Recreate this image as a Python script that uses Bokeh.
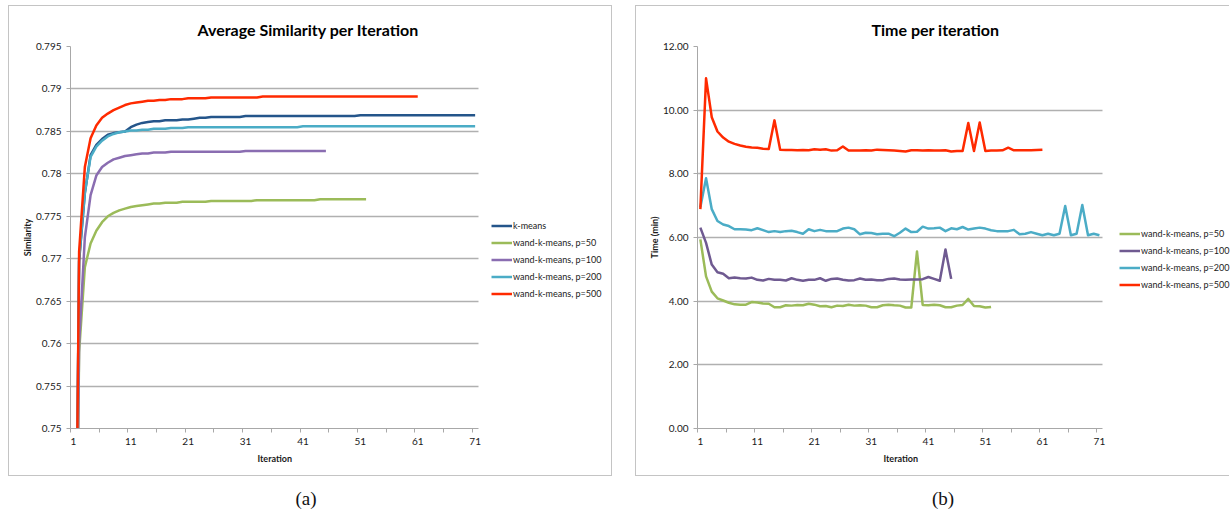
from bokeh.plotting import figure
from bokeh.models import Range1d, FixedTicker, Legend, LegendItem, Div, Spacer, Title
from bokeh.layouts import row, column
from bokeh.embed import file_html
from bokeh.resources import INLINE

# ---------------- data ----------------
SIM_TICKS = [0.75, 0.755, 0.76, 0.765, 0.77, 0.775, 0.78, 0.785, 0.79, 0.795]
SIM_TICK_LABELS = ["0.75", "0.755", "0.76", "0.765", "0.77", "0.775", "0.78", "0.785", "0.79", "0.795"]
TIME_TICKS = [0, 2, 4, 6, 8, 10, 12]
TIME_TICK_LABELS = ["0.00", "2.00", "4.00", "6.00", "8.00", "10.00", "12.00"]
ITER_TICKS = [1, 11, 21, 31, 41, 51, 61, 71]
N_ITER = 71

sim_kmeans = [0.700, 0.7697, 0.7777, 0.7822, 0.7834, 0.7841, 0.7846, 0.7848, 0.7849, 0.7850,
              0.7855, 0.7858, 0.7860, 0.7861, 0.7862, 0.7862, 0.7863, 0.7863, 0.7863, 0.7864,
              0.7864, 0.7865, 0.7866, 0.7866, 0.7867, 0.7867, 0.7867, 0.7867, 0.7867, 0.7867,
              0.7868, 0.7868, 0.7868, 0.7868, 0.7868, 0.7868, 0.7868, 0.7868, 0.7868, 0.7868,
              0.7868, 0.7868, 0.7868, 0.7868, 0.7868, 0.7868, 0.7868, 0.7868, 0.7868, 0.7868,
              0.7869, 0.7869, 0.7869, 0.7869, 0.7869, 0.7869, 0.7869, 0.7869, 0.7869, 0.7869,
              0.7869, 0.7869, 0.7869, 0.7869, 0.7869, 0.7869, 0.7869, 0.7869, 0.7869, 0.7869,
              0.7869]
sim_p50 = [0.700, 0.7590, 0.7690, 0.7718, 0.7733, 0.7743, 0.7750, 0.7754, 0.7757, 0.7759,
           0.7761, 0.7762, 0.7763, 0.7764, 0.7765, 0.7765, 0.7766, 0.7766, 0.7766, 0.7767,
           0.7767, 0.7767, 0.7767, 0.7767, 0.7768, 0.7768, 0.7768, 0.7768, 0.7768, 0.7768,
           0.7768, 0.7768, 0.7769, 0.7769, 0.7769, 0.7769, 0.7769, 0.7769, 0.7769, 0.7769,
           0.7769, 0.7769, 0.7769, 0.7770, 0.7770, 0.7770, 0.7770, 0.7770, 0.7770, 0.7770,
           0.7770, 0.7770]
sim_p100 = [0.700, 0.7600, 0.7725, 0.7775, 0.7798, 0.7808, 0.7813, 0.7817, 0.7819, 0.7821,
            0.7822, 0.7823, 0.7824, 0.7824, 0.7825, 0.7825, 0.7825, 0.7826, 0.7826, 0.7826,
            0.7826, 0.7826, 0.7826, 0.7826, 0.7826, 0.7826, 0.7826, 0.7826, 0.7826, 0.7826,
            0.7827, 0.7827, 0.7827, 0.7827, 0.7827, 0.7827, 0.7827, 0.7827, 0.7827, 0.7827,
            0.7827, 0.7827, 0.7827, 0.7827, 0.7827]
sim_p200 = [0.700, 0.7700, 0.7778, 0.7820, 0.7832, 0.7839, 0.7844, 0.7847, 0.7849, 0.7850,
            0.7851, 0.7851, 0.7852, 0.7852, 0.7853, 0.7853, 0.7853, 0.7854, 0.7854, 0.7854,
            0.7855, 0.7855, 0.7855, 0.7855, 0.7855, 0.7855, 0.7855, 0.7855, 0.7855, 0.7855,
            0.7855, 0.7855, 0.7855, 0.7855, 0.7855, 0.7855, 0.7855, 0.7855, 0.7855, 0.7855,
            0.7856, 0.7856, 0.7856, 0.7856, 0.7856, 0.7856, 0.7856, 0.7856, 0.7856, 0.7856,
            0.7856, 0.7856, 0.7856, 0.7856, 0.7856, 0.7856, 0.7856, 0.7856, 0.7856, 0.7856,
            0.7856, 0.7856, 0.7856, 0.7856, 0.7856, 0.7856, 0.7856, 0.7856, 0.7856, 0.7856,
            0.7856]
sim_p500 = [0.700, 0.7708, 0.7808, 0.7842, 0.7857, 0.7866, 0.7871, 0.7875, 0.7878, 0.7881,
            0.7883, 0.7884, 0.7885, 0.7886, 0.7886, 0.7887, 0.7887, 0.7888, 0.7888, 0.7888,
            0.7889, 0.7889, 0.7889, 0.7889, 0.7890, 0.7890, 0.7890, 0.7890, 0.7890, 0.7890,
            0.7890, 0.7890, 0.7890, 0.7891, 0.7891, 0.7891, 0.7891, 0.7891, 0.7891, 0.7891,
            0.7891, 0.7891, 0.7891, 0.7891, 0.7891, 0.7891, 0.7891, 0.7891, 0.7891, 0.7891,
            0.7891, 0.7891, 0.7891, 0.7891, 0.7891, 0.7891, 0.7891, 0.7891, 0.7891, 0.7891,
            0.7891]

time_p50 = [5.94, 4.78, 4.30, 4.09, 4.02, 3.95, 3.90, 3.89, 3.89, 3.97,
            3.96, 3.93, 3.92, 3.81, 3.81, 3.87, 3.86, 3.88, 3.87, 3.92,
            3.89, 3.84, 3.85, 3.81, 3.86, 3.85, 3.89, 3.86, 3.87, 3.86,
            3.81, 3.81, 3.87, 3.89, 3.87, 3.86, 3.80, 3.80, 5.56, 3.88,
            3.87, 3.89, 3.87, 3.81, 3.81, 3.86, 3.88, 4.07, 3.85, 3.84,
            3.80, 3.82]
time_p100 = [6.31, 5.83, 5.15, 4.91, 4.86, 4.72, 4.74, 4.72, 4.71, 4.74,
             4.67, 4.65, 4.70, 4.67, 4.67, 4.65, 4.72, 4.67, 4.64, 4.67,
             4.67, 4.72, 4.64, 4.70, 4.71, 4.67, 4.65, 4.66, 4.71, 4.67,
             4.68, 4.66, 4.66, 4.70, 4.71, 4.68, 4.67, 4.68, 4.68, 4.69,
             4.76, 4.70, 4.64, 5.62, 4.70]
time_p200 = [6.95, 7.86, 6.89, 6.52, 6.41, 6.36, 6.26, 6.26, 6.25, 6.23,
             6.29, 6.23, 6.17, 6.20, 6.17, 6.20, 6.21, 6.17, 6.12, 6.26,
             6.20, 6.24, 6.20, 6.20, 6.20, 6.28, 6.31, 6.26, 6.10, 6.15,
             6.14, 6.10, 6.12, 6.12, 6.04, 6.15, 6.28, 6.17, 6.18, 6.34,
             6.28, 6.29, 6.31, 6.20, 6.29, 6.26, 6.33, 6.25, 6.28, 6.31,
             6.28, 6.23, 6.20, 6.20, 6.20, 6.24, 6.10, 6.12, 6.17, 6.12,
             6.07, 6.12, 6.07, 6.12, 6.99, 6.07, 6.12, 7.02, 6.07, 6.12,
             6.07]
time_p500 = [6.89, 11.00, 9.78, 9.33, 9.14, 9.01, 8.94, 8.89, 8.85, 8.83,
             8.82, 8.79, 8.78, 9.68, 8.76, 8.75, 8.75, 8.74, 8.75, 8.74,
             8.77, 8.76, 8.77, 8.73, 8.74, 8.86, 8.73, 8.73, 8.73, 8.74,
             8.73, 8.76, 8.75, 8.74, 8.73, 8.72, 8.70, 8.74, 8.74, 8.73,
             8.74, 8.73, 8.73, 8.74, 8.70, 8.72, 8.72, 9.60, 8.72, 9.61,
             8.72, 8.73, 8.73, 8.74, 8.82, 8.74, 8.74, 8.74, 8.74, 8.75,
             8.76]

SIM_SERIES = [("k-means", sim_kmeans, "#24558A"),
              ("wand-k-means, p=50", sim_p50, "#9BBB59"),
              ("wand-k-means, p=100", sim_p100, "#8A6DB1"),
              ("wand-k-means, p=200", sim_p200, "#4BACC6"),
              ("wand-k-means, p=500", sim_p500, "#FF2A00")]
TIME_SERIES = [("wand-k-means, p=50", time_p50, "#9BBB59"),
               ("wand-k-means, p=100", time_p100, "#6F5A91"),
               ("wand-k-means, p=200", time_p200, "#4BACC6"),
               ("wand-k-means, p=500", time_p500, "#FF2A00")]

FONT = "Lato"
TXT = "#1a1a1a"
GRID = "#b0b0b0"
AXIS = "#a8a8a8"
BORDER = "1px solid #c4c4c4"


def make_panel(title, title_offset, ylab, yr, yticks, ylabels, series, legend_loc,
               axis_w, frame_w, border_css, xlab_offset):
    # the frame also covers the legend area on the right; the axis itself
    # (and its grid) only spans iterations 0.5 .. 71.5, i.e. axis_w pixels
    x_end = 0.5 + N_ITER * frame_w / axis_w
    p = figure(frame_width=frame_w, frame_height=380,
               min_border_left=61, min_border_right=0,
               min_border_top=40, min_border_bottom=49,
               x_range=Range1d(0.5, x_end), y_range=Range1d(*yr),
               output_backend="svg", toolbar_location=None)
    p.styles = border_css
    p.outline_line_color = None
    p.background_fill_color = "white"
    p.border_fill_color = "white"

    p.title.text = title
    p.title.align = "left"
    p.title.offset = title_offset
    p.title.text_font = FONT
    p.title.text_font_size = "16px"
    p.title.text_font_style = "bold"
    p.title.text_color = "#000000"
    p.title.standoff = 16

    # y axis
    p.yaxis.ticker = FixedTicker(ticks=yticks)
    p.yaxis.major_label_overrides = {t: l for t, l in zip(yticks, ylabels)}
    p.yaxis.axis_label = ylab
    p.yaxis.axis_label_text_font = FONT
    p.yaxis.axis_label_text_font_size = "9px"
    p.yaxis.axis_label_text_font_style = "bold"
    p.yaxis.axis_label_text_color = TXT
    p.yaxis.axis_label_standoff = 0
    p.yaxis.major_label_text_font = FONT
    p.yaxis.major_label_text_font_size = "10px"
    p.yaxis.major_label_text_color = TXT
    p.yaxis.major_label_standoff = 5
    p.yaxis.axis_line_color = AXIS
    p.yaxis.major_tick_line_color = AXIS
    p.yaxis.major_tick_out = 4
    p.yaxis.major_tick_in = 0
    p.yaxis.minor_tick_line_color = None

    # x axis
    p.xaxis.bounds = (0.5, N_ITER + 0.5)
    p.xaxis.ticker = FixedTicker(ticks=ITER_TICKS,
                                 minor_ticks=[t + 0.5 for t in range(0, N_ITER, 5)])
    p.xaxis.major_label_text_font = FONT
    p.xaxis.major_label_text_font_size = "10px"
    p.xaxis.major_label_text_color = TXT
    p.xaxis.major_label_standoff = 5
    p.xaxis.axis_line_color = AXIS
    p.xaxis.major_tick_line_color = None
    p.xaxis.major_tick_out = 0
    p.xaxis.major_tick_in = 0
    p.xaxis.minor_tick_line_color = AXIS
    p.xaxis.minor_tick_out = 4
    p.xaxis.minor_tick_in = 0

    # x-axis title, centred under the axis (not under the legend area)
    p.add_layout(Title(text="Iteration", align="left", offset=xlab_offset,
                       text_font=FONT, text_font_size="9px", text_font_style="bold",
                       text_color=TXT, standoff=6), "below")

    p.xgrid.visible = False
    grid = p.ygrid[0]
    if "cross_bounds" in grid.properties():
        grid.cross_bounds = (0.5, N_ITER + 0.5)
        grid.grid_line_color = GRID
        grid.grid_line_width = 1.3
    else:
        grid.visible = False
        p.segment(x0=[0.5] * len(yticks), x1=[N_ITER + 0.5] * len(yticks),
                  y0=yticks, y1=yticks, line_color=GRID, line_width=1.3, level="underlay")

    items = []
    for name, vals, col in series:
        xs = list(range(1, len(vals) + 1))
        r = p.line(xs, vals, line_color=col, line_width=2.5, line_join="round")
        items.append(LegendItem(label=name, renderers=[r]))

    leg = Legend(items=items, location=legend_loc, padding=0, margin=0, spacing=0,
                 glyph_width=21, glyph_height=17, label_height=17, label_standoff=1,
                 label_text_font=FONT, label_text_font_size="9px", label_text_color=TXT,
                 background_fill_alpha=0, border_line_color=None)
    p.add_layout(leg)
    return p


p1 = make_panel("Average Similarity per Iteration", 127, "Similarity", (0.75, 0.795),
                SIM_TICKS, SIM_TICK_LABELS, SIM_SERIES, (421, 126),
                406, 541, {"border": BORDER}, 187)
p2 = make_panel("Time per iteration", 174, "Time (min)", (0, 12),
                TIME_TICKS, TIME_TICK_LABELS, TIME_SERIES, (422, 135),
                404, 532,
                {"border-left": BORDER, "border-top": BORDER, "border-bottom": BORDER}, 186)


def caption(t):
    return Div(text=('<div style="text-align:center;font-family:\'Liberation Serif\',serif;'
                     'font-size:19px;color:#111;padding-top:4px;width:586px">' + t + '</div>'),
               width=586, height=30)


layout = column(Spacer(height=5),
                row(Spacer(width=8), p1, Spacer(width=23), p2),
                row(Spacer(width=8), caption("(a)"), Spacer(width=41), caption("(b)")))

open("out.html", "w").write(file_html(layout, INLINE))
